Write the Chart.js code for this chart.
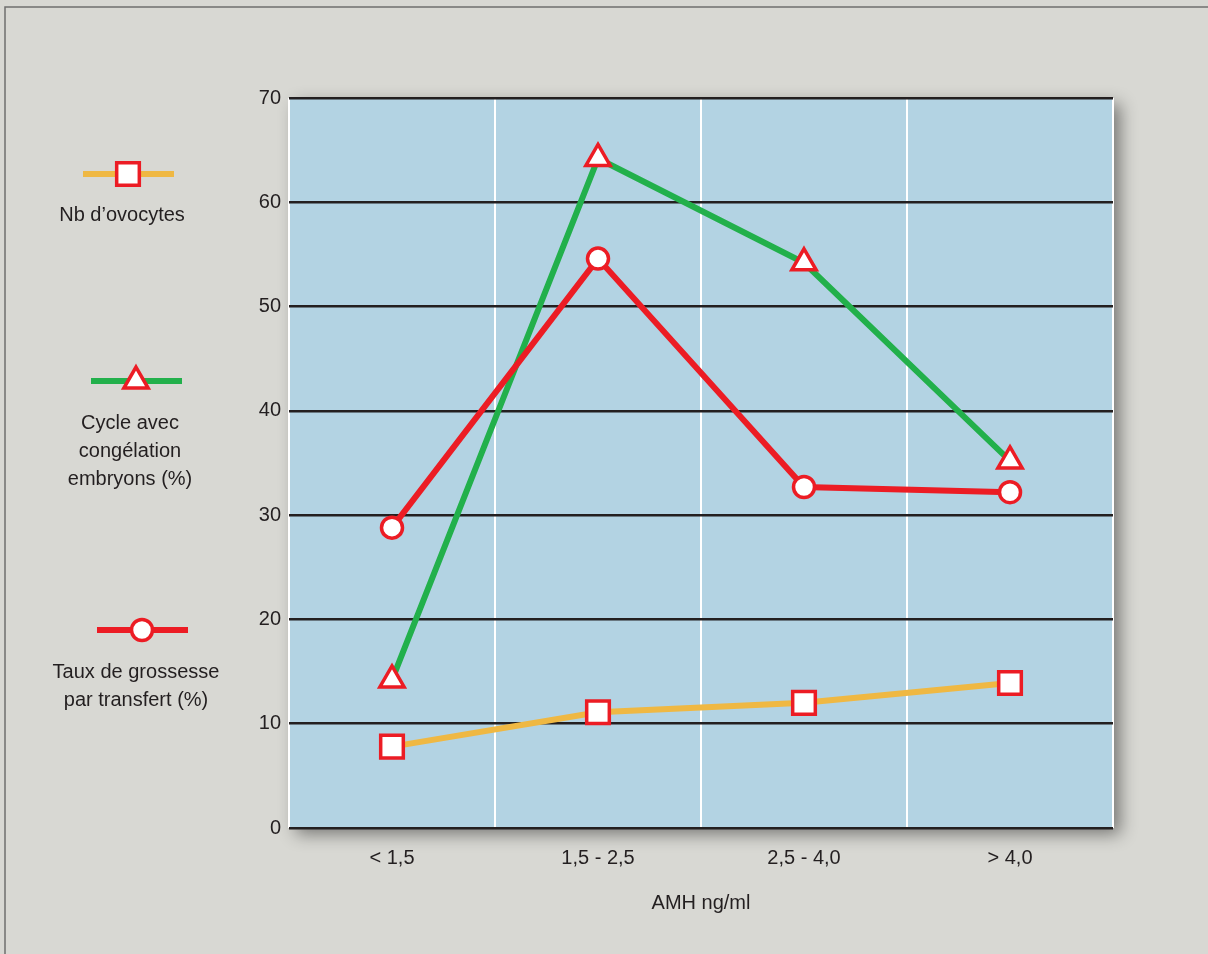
<!DOCTYPE html>
<html>
<head>
<meta charset="utf-8">
<script src="https://cdn.jsdelivr.net/npm/chart.js@4/dist/chart.umd.min.js"></script>
<style>
  html, body { margin: 0; padding: 0; background: #d8d8d3; }
  #wrap { width: 1208px; height: 954px; }
</style>
</head>
<body>
<div id="wrap"><canvas id="chart"></canvas></div>
<script>
const categories = ['< 1,5', '1,5 - 2,5', '2,5 - 4,0', '> 4,0'];
const ovocytes = [7.8, 11.1, 12.0, 13.9];
const congelation = [14.2, 64.2, 54.2, 35.2];
const grossesse = [28.8, 54.6, 32.7, 32.2];
const yTicks = [0, 10, 20, 30, 40, 50, 60, 70];

const FONT = '"Liberation Sans Narrow", "Liberation Sans", Arial, sans-serif';
const RED = '#ec1c24';

const legendItems = [
    { lines: ['Nb d\u2019ovocytes'], color: '#efb843', style: 'rect', radius: 16, x: 128, y: 174, textY: 215 },
    { lines: ['Cycle avec', 'congélation', 'embryons (%)'], color: '#22b04b', style: 'triangle', radius: 14, x: 136, y: 381, textY: 423 },
    { lines: ['Taux de grossesse', 'par transfert (%)'], color: RED, style: 'circle', radius: 10.5, x: 142, y: 630, textY: 672 }
];

const panelPlugin = {
    id: 'panel',
    beforeDraw(chart) {
        const { ctx, chartArea: a } = chart;
        ctx.save();
        ctx.fillStyle = '#d8d8d3';
        ctx.fillRect(0, 0, chart.width, chart.height);
        ctx.strokeStyle = '#6f6f6f';
        ctx.lineWidth = 1.5;
        ctx.strokeRect(5, 7, chart.width + 20, chart.height + 20);
        // plot area with soft shadow
        ctx.shadowColor = 'rgba(0,0,0,0.45)';
        ctx.shadowBlur = 16;
        ctx.shadowOffsetX = 7;
        ctx.shadowOffsetY = 6;
        ctx.fillStyle = '#b3d3e3';
        ctx.fillRect(a.left, a.top, a.right - a.left, a.bottom - a.top);
        ctx.restore();
    },
    afterDraw(chart) {
        const { ctx } = chart;
        ctx.save();
        legendItems.forEach(item => {
            ctx.strokeStyle = item.color;
            ctx.lineWidth = 6;
            ctx.beginPath();
            ctx.moveTo(item.x - 45, item.y);
            ctx.lineTo(item.x + 46, item.y);
            ctx.stroke();
            ctx.fillStyle = '#ffffff';
            ctx.strokeStyle = RED;
            ctx.lineWidth = 3.5;
            Chart.helpers.drawPoint(ctx, { pointStyle: item.style, radius: item.radius, borderWidth: 3.5, rotation: 0 }, item.x, item.y);
            ctx.fillStyle = '#231f20';
            ctx.font = '20px ' + FONT;
            ctx.textAlign = 'center';
            ctx.textBaseline = 'middle';
            item.lines.forEach((t, i) => ctx.fillText(t, item.x - 6, item.textY + i * 28));
        });
        ctx.restore();
    }
};

function series(label, data, color, style, radius) {
    return {
        label: label,
        data: data,
        borderColor: color,
        borderWidth: 6,
        pointStyle: style,
        pointRadius: radius,
        pointHoverRadius: radius,
        pointBackgroundColor: '#ffffff',
        pointBorderColor: RED,
        pointBorderWidth: 3.5,
        tension: 0
    };
}

new Chart(document.getElementById('chart'), {
    type: 'line',
    data: {
        labels: categories,
        datasets: [
            series('Taux de grossesse par transfert (%)', grossesse, RED, 'circle', 10.5),
            series('Cycle avec congélation embryons (%)', congelation, '#22b04b', 'triangle', 14),
            series('Nb d\u2019ovocytes', ovocytes, '#efb843', 'rect', 16)
        ]
    },
    options: {
        responsive: true,
        maintainAspectRatio: false,
        animation: false,
        layout: { padding: { top: 98, right: 95, left: 0, bottom: 0 } },
        plugins: { legend: { display: false }, tooltip: { enabled: false } },
        scales: {
            x: {
                offset: true,
                grid: { color: '#ffffff', lineWidth: 2, drawTicks: false, offset: true },
                border: { display: false },
                ticks: { color: '#231f20', padding: 18, font: { family: FONT, size: 20 } },
                title: {
                    display: true,
                    text: 'AMH ng/ml',
                    color: '#231f20',
                    padding: { top: 0, bottom: 39 },
                    font: { family: FONT, size: 20 }
                },
                afterFit(scale) { scale.height = 126; }
            },
            y: {
                z: -1,
                min: 0,
                max: 70,
                afterBuildTicks(scale) { scale.ticks = yTicks.map(v => ({ value: v })); },
                grid: { color: '#231f20', lineWidth: 2.5, drawTicks: false },
                border: { display: false },
                ticks: { color: '#231f20', padding: 8, font: { family: FONT, size: 20 } },
                afterFit(scale) { scale.width = 289; }
            }
        }
    },
    plugins: [panelPlugin]
});
</script>
</body>
</html>
